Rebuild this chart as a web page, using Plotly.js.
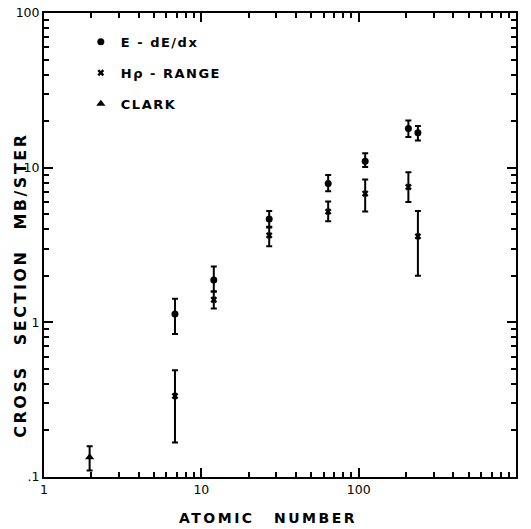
<!DOCTYPE html>
<html>
<head>
<meta charset="utf-8">
<script src="https://cdn.plot.ly/plotly-3.0.1.min.js"></script>
<style>
  html, body { margin: 0; padding: 0; background: #fff; }
  #chart { width: 531px; height: 529px; }
  .annotation-text { letter-spacing: 2.5px; word-spacing: 12px; }
  .legendtext { letter-spacing: 1.5px; }
</style>
</head>
<body>
<div id="chart"></div>
<script>
// Atomic number (x) for each group
const zE = [6.8, 12, 27, 64, 110, 207, 238];
const valE = [1.13, 1.88, 4.65, 7.9, 11.0, 17.9, 16.8];
const hiE = [1.42, 2.3, 5.25, 8.95, 12.4, 20.2, 18.6];
const loE = [0.84, 1.58, 4.1, 7.05, 10.1, 15.8, 15.0];

const zH = [6.8, 12, 27, 64, 110, 207, 238];
const valH = [0.334, 1.40, 3.65, 5.2, 6.8, 7.5, 3.6];
const hiH = [0.49, 1.58, 4.15, 6.05, 8.4, 9.35, 5.25];
const loH = [0.167, 1.23, 3.1, 4.5, 5.2, 6.0, 2.0];

const zC = [1.95];
const valC = [0.134];
const hiC = [0.158];
const loC = [0.110];

const seriesNames = ['E - dE/dx', 'H\u03C1 - RANGE', 'CLARK'];
const xDecades = [1, 10, 100, 1000];
const xDecadeText = ['1', '10', '100', '1000'];
const yDecades = [0.1, 1, 10, 100];
const yDecadeText = ['.1', '1', '10', '100'];

function errBars(val, hi, lo) {
  return {
    type: 'data', symmetric: false,
    array: val.map((v, i) => hi[i] - v),
    arrayminus: val.map((v, i) => v - lo[i]),
    color: 'black', thickness: 2, width: 3
  };
}

function allTicks(decades) {
  const vals = [];
  decades.forEach((d, i) => {
    vals.push(d);
    if (i < decades.length - 1) {
      for (let k = 2; k <= 9; k++) vals.push(k * d);
    }
  });
  return vals;
}

const traces = [
  { x: zE, y: valE, name: seriesNames[0], type: 'scatter', mode: 'markers',
    legendgroup: 'a',
    marker: { symbol: 'circle', size: 7, color: 'black' },
    error_y: errBars(valE, hiE, loE) },
  { x: zH, y: valH, name: seriesNames[1], type: 'scatter', mode: 'markers',
    legendgroup: 'b',
    marker: { symbol: 'x', size: 6, color: 'black' },
    error_y: errBars(valH, hiH, loH) },
  { x: zC, y: valC, name: seriesNames[2], type: 'scatter', mode: 'markers',
    legendgroup: 'c', xaxis: 'x2', yaxis: 'y2',
    marker: { symbol: 'triangle-up', size: 8, color: 'black' },
    error_y: errBars(valC, hiC, loC) }
];

const font = { family: 'DejaVu Sans, sans-serif', color: 'black' };
const tickFont = Object.assign({ size: 12.5 }, font);

const layout = {
  width: 531, height: 529,
  margin: { l: 44, r: 15, t: 13, b: 52 },
  paper_bgcolor: 'white', plot_bgcolor: 'white',
  showlegend: true,
  legend: {
    x: 0.078, y: 0.97, xanchor: 'left', yanchor: 'top',
    bgcolor: 'rgba(0,0,0,0)', borderwidth: 0,
    tracegroupgap: 11,
    font: Object.assign({ size: 13, weight: 'bold' }, font)
  },
  // main axes: decade labels with longer ticks
  xaxis: {
    type: 'log', range: [0, 3],
    tickmode: 'array', tickvals: xDecades, ticktext: xDecadeText,
    ticks: 'inside', ticklen: 9, tickwidth: 2, tickcolor: 'black',
    showline: true, linecolor: 'black', linewidth: 2, mirror: 'ticks',
    showgrid: false, zeroline: false,
    tickfont: tickFont
  },
  yaxis: {
    type: 'log', range: [-1, 2],
    tickmode: 'array', tickvals: yDecades, ticktext: yDecadeText,
    ticks: 'inside', ticklen: 9, tickwidth: 2, tickcolor: 'black',
    showline: true, linecolor: 'black', linewidth: 2, mirror: 'ticks',
    showgrid: false, zeroline: false,
    tickfont: tickFont
  },
  // overlay axes (same ranges): short ticks at every 1..9 step
  xaxis2: {
    type: 'log', range: [0, 3], overlaying: 'x', anchor: 'y2', side: 'bottom',
    tickmode: 'array', tickvals: allTicks(xDecades),
    ticks: 'inside', ticklen: 5, tickwidth: 1.5, tickcolor: 'black',
    showticklabels: false, showline: true, linecolor: 'black', linewidth: 2, mirror: 'ticks',
    showgrid: false, zeroline: false
  },
  yaxis2: {
    type: 'log', range: [-1, 2], overlaying: 'y', anchor: 'x2', side: 'left',
    tickmode: 'array', tickvals: allTicks(yDecades),
    ticks: 'inside', ticklen: 5, tickwidth: 1.5, tickcolor: 'black',
    showticklabels: false, showline: true, linecolor: 'black', linewidth: 2, mirror: 'ticks',
    showgrid: false, zeroline: false
  },
  annotations: [
    { text: 'ATOMIC NUMBER', xref: 'paper', yref: 'paper', x: 0.474, y: -0.089,
      xanchor: 'center', yanchor: 'middle', showarrow: false,
      font: Object.assign({ size: 14, weight: 'bold' }, font) },
    { text: 'CROSS SECTION MB/STER', xref: 'paper', yref: 'paper', x: -0.049, y: 0.414,
      xanchor: 'center', yanchor: 'middle', showarrow: false, textangle: -90,
      font: Object.assign({ size: 16, weight: 'bold' }, font) }
  ]
};

Plotly.newPlot('chart', traces, layout, { displayModeBar: false });
</script>
</body>
</html>
